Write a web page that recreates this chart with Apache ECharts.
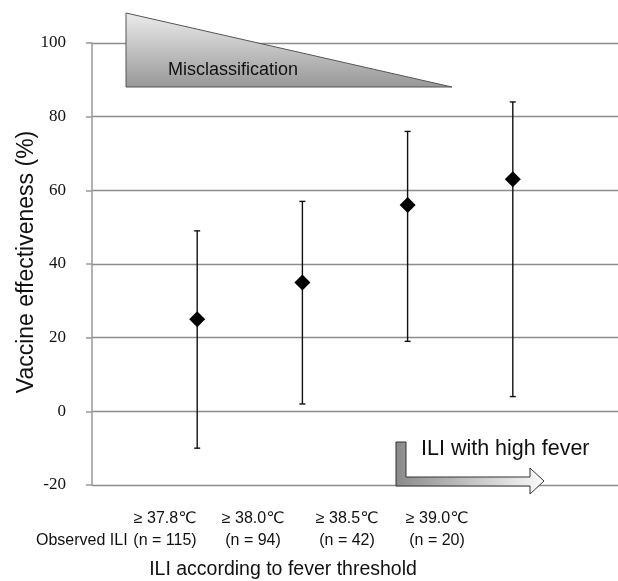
<!DOCTYPE html>
<html>
<head>
<meta charset="utf-8">
<script src="https://cdn.jsdelivr.net/npm/echarts@6/dist/echarts.min.js"></script>
<style>html,body{margin:0;padding:0;background:#fff}#c{width:618px;height:581px}</style>
</head>
<body>
<div id="c"></div>
<script>
var thresholds = ['≥ 37.8℃', '≥ 38.0℃', '≥ 38.5℃', '≥ 39.0℃'];
var counts = ['(n = 115)', '(n = 94)', '(n = 42)', '(n = 20)'];
var positions = [1, 2, 3, 4];
var ve = [25, 35, 56, 63];
var lower = [-10, 2, 19, 4];
var upper = [49, 57, 76, 84];
var yTicks = [-20, 0, 20, 40, 60, 80, 100];

var chart = echarts.init(document.getElementById('c'), null, {renderer: 'canvas'});
var sans = '"Liberation Sans", Arial, "DejaVu Sans", sans-serif';
var serif = '"Liberation Serif", "Times New Roman", serif';

var labelX = [165, 253, 347, 437];
var graphics = [];
// triangle annotation
graphics.push({
  type: 'polygon', z: 10,
  shape: {points: [[126, 13], [126, 87], [452, 87]]},
  style: {fill: new echarts.graphic.LinearGradient(0, 0, 0, 1, [{offset: 0, color: '#ececec'}, {offset: 1, color: '#979797'}]), stroke: '#555', lineWidth: 1}
});
graphics.push({type: 'text', z: 11, x: 168, y: 70, style: {text: 'Misclassification', font: '18px ' + sans, fill: '#111', textVerticalAlign: 'middle'}});
// arrow annotation
graphics.push({
  type: 'polygon', z: 10,
  shape: {points: [[396, 442], [406, 442], [406, 477], [530, 477], [530, 468], [544, 481], [530, 494], [530, 486], [396, 486]]},
  style: {fill: new echarts.graphic.LinearGradient(0, 0, 1, 0, [{offset: 0, color: '#8a8a8a'}, {offset: 1, color: '#fbfbfb'}]), stroke: '#333', lineWidth: 1}
});
graphics.push({type: 'text', z: 11, x: 421, y: 449, style: {text: 'ILI with high fever', font: '21.5px ' + sans, fill: '#111', textVerticalAlign: 'middle'}});
// bottom labels
for (var i = 0; i < thresholds.length; i++) {
  graphics.push({type: 'text', x: labelX[i], y: 519, style: {text: thresholds[i], font: '16px ' + sans, fill: '#111', textAlign: 'center', textVerticalAlign: 'middle'}});
  graphics.push({type: 'text', x: labelX[i], y: 541, style: {text: counts[i], font: '16px ' + sans, fill: '#111', textAlign: 'center', textVerticalAlign: 'middle'}});
}
graphics.push({type: 'text', x: 36, y: 541, style: {text: 'Observed ILI', font: '16px ' + sans, fill: '#111', textVerticalAlign: 'middle'}});
graphics.push({type: 'text', x: 283, y: 570, style: {text: 'ILI according to fever threshold', font: '19.5px ' + sans, fill: '#111', textAlign: 'center', textVerticalAlign: 'middle'}});
// y-axis title
graphics.push({type: 'text', x: 27, y: 262, rotation: Math.PI / 2, style: {text: 'Vaccine effectiveness (%)', font: '23px ' + sans, fill: '#111', textAlign: 'center', textVerticalAlign: 'middle'}});

chart.setOption({
  animation: false,
  grid: {left: 92, right: 0, top: 43, bottom: 96, containLabel: false, outerBoundsMode: 'none'},
  xAxis: {type: 'value', min: 0, max: 5, interval: 1, show: true,
    axisLine: {show: false}, axisTick: {show: false}, axisLabel: {show: false}, splitLine: {show: false}},
  yAxis: {type: 'value', min: yTicks[0], max: yTicks[yTicks.length - 1], interval: 20,
    axisLine: {show: true, lineStyle: {color: '#999', width: 1.5}},
    axisTick: {show: true, length: 6, lineStyle: {color: '#999', width: 1.5}},
    axisLabel: {fontFamily: serif, fontSize: 17, color: '#111', margin: 26},
    splitLine: {show: true, lineStyle: {color: '#8c8c8c', width: 1.3}}},
  series: [
    {type: 'custom', z: 3,
      data: positions.map(function (p, i) { return [p, lower[i], upper[i]]; }),
      renderItem: function (params, api) {
        var lo = api.coord([api.value(0), api.value(1)]);
        var hi = api.coord([api.value(0), api.value(2)]);
        var st = {stroke: '#111', lineWidth: 1.4};
        return {type: 'group', children: [
          {type: 'line', shape: {x1: lo[0], y1: lo[1], x2: hi[0], y2: hi[1]}, style: st},
          {type: 'line', shape: {x1: lo[0] - 3, y1: lo[1], x2: lo[0] + 3, y2: lo[1]}, style: st},
          {type: 'line', shape: {x1: hi[0] - 3, y1: hi[1], x2: hi[0] + 3, y2: hi[1]}, style: st}
        ]};
      }},
    {type: 'scatter', z: 5, symbol: 'diamond', symbolSize: 16,
      itemStyle: {color: '#000', opacity: 1},
      data: positions.map(function (p, i) { return [p, ve[i]]; })}
  ],
  graphic: graphics
});
</script>
</body>
</html>
